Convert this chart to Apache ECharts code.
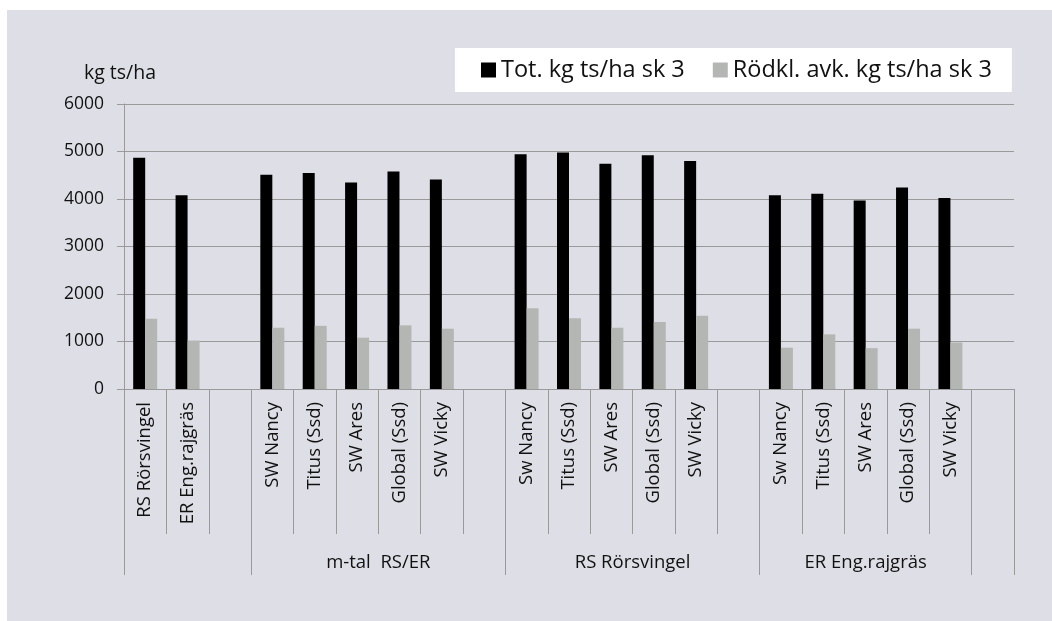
<!DOCTYPE html>
<html lang="sv">
<head>
    <meta charset="UTF-8">
    <title>kg ts/ha sk 3</title>
    <script src="https://cdn.jsdelivr.net/npm/echarts@6/dist/echarts.min.js"></script>
</head>
<body style="margin:0;background:#fff">
<div id="chart" style="width:1052px;height:621px;background:linear-gradient(#dedfe6,#dedfe6) 7px 10px / 100% 100% no-repeat, #fff"></div>

<script>
    var categories = ['RS Rörsvingel', 'ER Eng.rajgräs', '',
        'SW Nancy', 'Titus (Ssd)', 'SW Ares', 'Global (Ssd)', 'SW Vicky', '',
        'Sw Nancy', 'Titus (Ssd)', 'SW Ares', 'Global (Ssd)', 'SW Vicky', '',
        'Sw Nancy', 'Titus (Ssd)', 'SW Ares', 'Global (Ssd)', 'SW Vicky', ''];
    var totKg = [4870, 4080, null,
        4510, 4550, 4350, 4580, 4410, null,
        4940, 4980, 4740, 4920, 4800, null,
        4080, 4110, 3970, 4240, 4020, null];
    var rodklAvk = [1480, 1020, null,
        1290, 1330, 1080, 1340, 1270, null,
        1700, 1490, 1290, 1410, 1540, null,
        870, 1150, 860, 1270, 980, null];
    // grupper under kategorierna
    var groupNames = ['m-tal  RS/ER', 'RS Rörsvingel', 'ER Eng.rajgräs'];
    var groupCenters = [6, 12, 17.5];
    var groupBounds = [0, 3, 9, 15, 20, 21];
    var yTicks = [0, 1000, 2000, 3000, 4000, 5000, 6000];

    var font = 'Open Sans';
    var lineColor = '#9a9a9a';

    var chart = echarts.init(document.getElementById('chart'));
    var option = {
        animation: false,
        textStyle: {fontFamily: font, color: '#111'},
        legend: {
            left: 455,
            top: 48,
            padding: [10, 20, 10, 26],
            backgroundColor: '#fff',
            itemWidth: 15,
            itemHeight: 15,
            itemGap: 28,
            icon: 'rect',
            textStyle: {fontSize: 23.5, color: '#111', fontFamily: font},
            data: ['Tot. kg ts/ha sk 3', 'Rödkl. avk. kg ts/ha sk 3']
        },
        grid: {left: 124, right: 38, top: 104, bottom: 232},
        xAxis: [
            {
                type: 'category',
                data: categories,
                offset: 0,
                axisLine: {show: true, lineStyle: {color: lineColor}},
                axisTick: {show: true, length: 145, interval: 0, lineStyle: {color: lineColor}},
                axisLabel: {interval: 0, rotate: 90, margin: 13, fontSize: 18.5, color: '#111'}
            },
            {
                type: 'value',
                position: 'bottom',
                offset: 0,
                min: groupBounds[0],
                max: groupBounds[groupBounds.length - 1],
                axisLine: {show: false},
                splitLine: {show: false},
                axisTick: {show: true, length: 186, customValues: groupBounds, lineStyle: {color: lineColor}},
                axisLabel: {
                    margin: 164,
                    fontSize: 18.5,
                    color: '#111',
                    customValues: groupCenters,
                    formatter: function (v) {
                        var i = groupCenters.indexOf(v);
                        return i >= 0 ? groupNames[i] : '';
                    }
                }
            }
        ],
        yAxis: {
            type: 'value',
            min: yTicks[0],
            max: yTicks[yTicks.length - 1],
            interval: 1000,
            name: 'kg ts/ha',
            nameGap: 21,
            nameTextStyle: {fontSize: 19.5, color: '#111', padding: [0, 8, 0, 0]},
            axisLine: {show: true, lineStyle: {color: lineColor}},
            axisTick: {show: true, length: 7, lineStyle: {color: lineColor}},
            axisLabel: {
                margin: 20,
                fontSize: 17.5,
                color: '#111',
                formatter: function (v) { return String(v); }
            },
            splitLine: {lineStyle: {color: lineColor}}
        },
        series: [
            {
                name: 'Tot. kg ts/ha sk 3',
                type: 'bar',
                barWidth: 12,
                barGap: '0%',
                itemStyle: {color: '#000'},
                data: totKg
            },
            {
                name: 'Rödkl. avk. kg ts/ha sk 3',
                type: 'bar',
                barWidth: 12,
                barGap: '0%',
                itemStyle: {color: '#b4b6b4'},
                data: rodklAvk
            }
        ]
    };
    chart.setOption(option);
</script>
</body>
</html>
